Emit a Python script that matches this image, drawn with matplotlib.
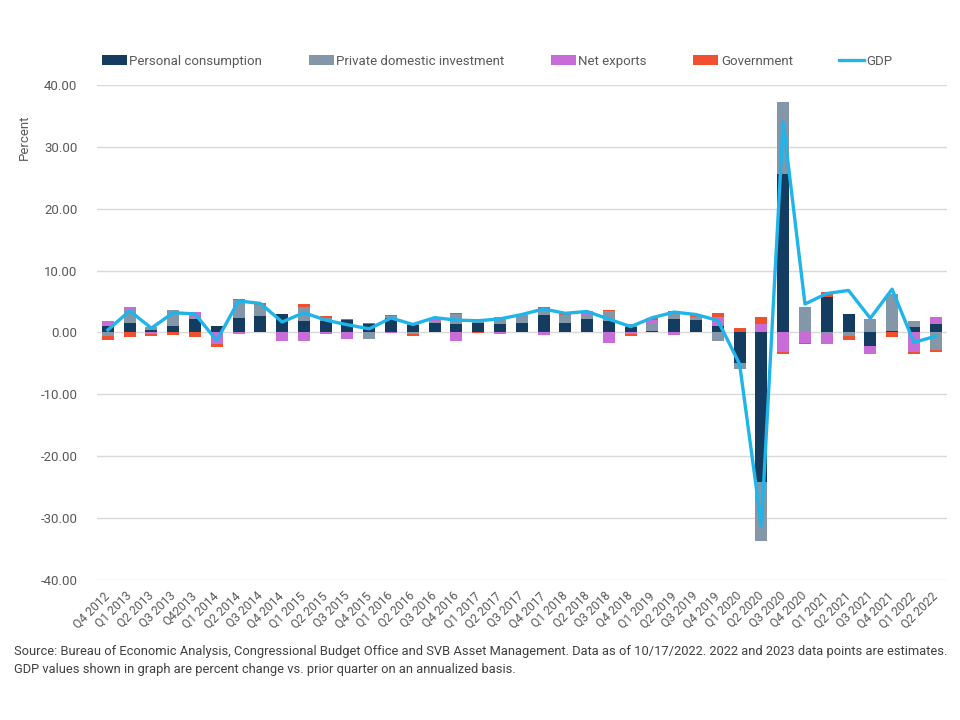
import matplotlib
matplotlib.use("Agg")
import matplotlib.pyplot as plt
import numpy as np

plt.rcParams['font.family'] = ['Roboto', 'DejaVu Sans']

# quarters on the x axis
quarters = ["Q4 2012", "Q1 2013", "Q2 2013", "Q3 2013", "Q42013", "Q1 2014", "Q2 2014",
            "Q3 2014", "Q4 2014", "Q1 2015", "Q2 2015", "Q3 2015", "Q4 2015", "Q1 2016",
            "Q2 2016", "Q3 2016", "Q4 2016", "Q1 2017", "Q2 2017", "Q3 2017", "Q4 2017",
            "Q1 2018", "Q2 2018", "Q3 2018", "Q4 2018", "Q1 2019", "Q2 2019", "Q3 2019",
            "Q4 2019", "Q1 2020", "Q2 2020", "Q3 2020", "Q4 2020", "Q1 2021", "Q2 2021",
            "Q3 2021", "Q4 2021", "Q1 2022", "Q2 2022"]

# contributions to GDP growth (percentage points)
personal = [1.0, 1.5, 0.45, 1.0, 2.15, 1.0, 2.4, 2.6, 3.0, 1.8, 1.8, 1.95, 1.4, 2.4,
            1.25, 1.6, 1.4, 1.6, 1.4, 1.5, 2.9, 1.6, 2.25, 1.85, 0.85, 0.3, 2.25, 2.1,
            1.1, -4.85, -24.1, 25.6, 0.0, 5.75, 3.0, -2.2, 0.27, 0.9, 1.35]
investment = [-0.6, 2.3, 0.45, 2.6, 0.3, 0.0, 2.85, 1.8, 0.0, 2.3, 0.6, 0.0, -1.1, 0.2,
              -0.3, 0.3, 1.6, 0.5, 1.1, 1.25, 0.9, 1.3, 0.4, 1.7, 0.55, 1.1, 0.75, 0.3,
              -1.3, -1.0, -9.6, 11.6, 4.1, -0.25, -0.6, 2.15, 5.9, 1.0, -2.85]
net_exports = [0.8, 0.4, -0.3, 0.0, 0.9, -1.8, -0.2, 0.0, -1.3, -1.4, -0.2, -1.1, 0.0, -0.15,
               0.1, 0.45, -1.3, 0.0, -0.3, 0.0, -0.4, 0.0, 0.75, -1.75, -0.3, 0.65, -0.4, 0.15,
               1.45, 0.0, 1.45, -3.1, -1.7, -1.6, 0.0, -1.25, 0.0, -3.1, 1.1]
government = [-0.6, -0.75, -0.3, -0.4, -0.65, -0.55, 0.2, 0.35, -0.15, 0.45, 0.2, 0.3, 0.2, 0.2,
              -0.2, 0.0, 0.2, -0.15, 0.0, 0.0, 0.4, 0.1, 0.0, 0.15, -0.3, 0.3, 0.4, 0.2,
              0.55, 0.65, 1.1, -0.3, -0.1, 0.75, -0.55, 0.0, -0.7, -0.3, -0.3]
gdp = [0.4, 3.5, 0.7, 3.2, 3.0, -1.3, 5.1, 4.7, 1.7, 3.2, 2.0, 1.25, 0.6, 2.35,
       1.3, 2.4, 2.0, 1.9, 2.2, 2.9, 3.8, 3.1, 3.4, 2.15, 0.95, 2.4, 3.3, 2.9,
       1.95, -5.1, -31.2, 34.0, 4.6, 6.3, 6.8, 2.3, 7.0, -1.6, -0.6]

series_names = ["Personal consumption", "Private domestic investment", "Net exports", "Government"]
series_colors = ["#133c60", "#8497a9", "#c86dd7", "#f0502d"]
gdp_color = "#1fb4ea"
text_color = "#595959"

fig = plt.figure(figsize=(9.6, 7.2), dpi=100)
ax = fig.add_axes([0.101, 0.1944, 0.885, 0.6876])

x = np.arange(len(quarters))
pos_base = np.zeros(len(quarters))
neg_base = np.zeros(len(quarters))
handles = []
for name, vals, col in zip(series_names, [personal, investment, net_exports, government], series_colors):
    v = np.array(vals)
    bottom = np.where(v >= 0, pos_base, neg_base)
    h = ax.bar(x, v, width=0.55, bottom=bottom, color=col, label=name, zorder=2)
    handles.append(h)
    pos_base += np.where(v > 0, v, 0)
    neg_base += np.where(v < 0, v, 0)

line, = ax.plot(x, gdp, color=gdp_color, lw=2.4, label="GDP", zorder=3, solid_joinstyle='round')
handles.append(line)

ax.set_xlim(-0.5, len(quarters) - 0.5)
ax.set_ylim(-40, 40)
ax.set_yticks(np.arange(-40, 41, 10))
ax.set_yticklabels([f"{v:.2f}" for v in np.arange(-40, 41, 10)])
ax.yaxis.grid(True, color="#d9d9d9", lw=1)
ax.set_axisbelow(True)
for s in ax.spines.values():
    s.set_visible(False)
ax.tick_params(axis='both', length=0, colors=text_color, labelsize=9.5)
ax.tick_params(axis='y', pad=14)

ax.set_xticks(x)
ax.set_xticklabels(quarters, rotation=45, ha='right', va='center', rotation_mode='anchor', fontsize=8.7)
ax.tick_params(axis='x', pad=10)

ax.set_ylabel("Percent", color=text_color, fontsize=9.5)
ax.yaxis.set_label_coords(-0.078, 0.895)

ax.legend(handles=handles, loc='center', bbox_to_anchor=(0.518, 0.915), bbox_transform=fig.transFigure,
          ncol=5, frameon=False, fontsize=9.5, labelcolor=text_color,
          handlelength=1.9, handletextpad=0.2, columnspacing=3.5)

fig.text(0.0146, 1 - 652 / 720,
         "Source: Bureau of Economic Analysis, Congressional Budget Office and SVB Asset Management. "
         "Data as of 10/17/2022. 2022 and 2023 data points are estimates.",
         fontsize=9.3, color="#404040", va='center')
fig.text(0.0146, 1 - 669 / 720,
         "GDP values shown in graph are percent change vs. prior quarter on an annualized basis.",
         fontsize=9.3, color="#404040", va='center')

fig.savefig("out.png", dpi=100)
